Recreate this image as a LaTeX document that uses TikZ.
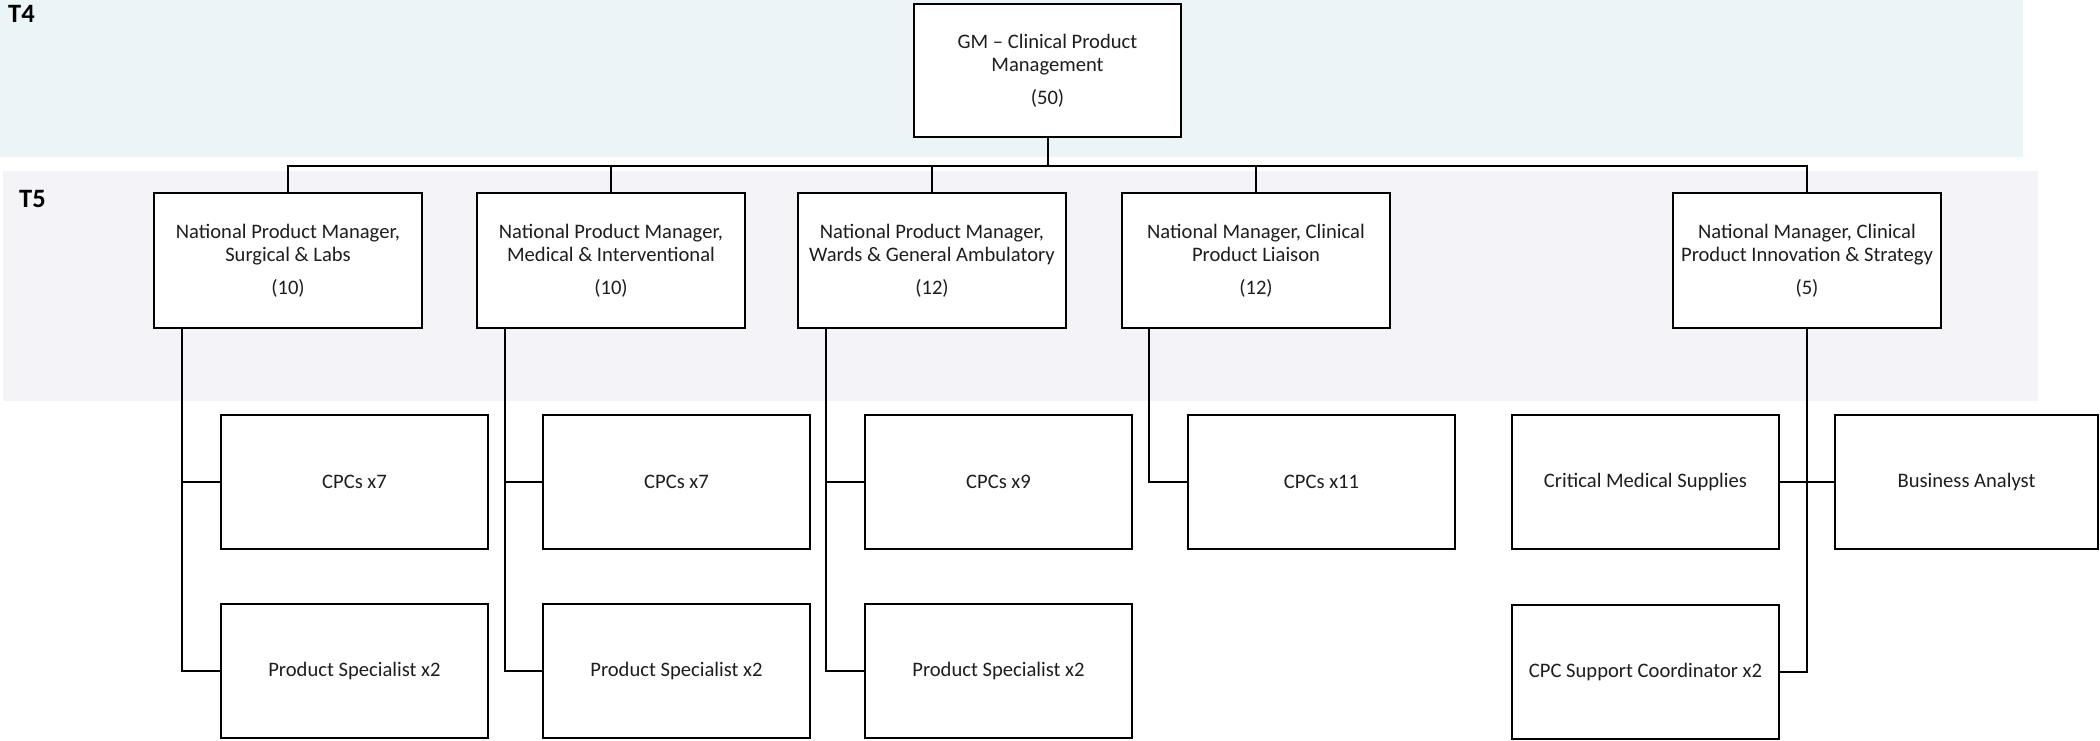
\documentclass[tikz,border=0pt]{standalone}
\usepackage{fontspec}
\setmainfont{Carlito}
\definecolor{tierfour}{HTML}{EBF5F7}
\definecolor{tierfive}{HTML}{F4F3F8}
\definecolor{inktext}{HTML}{1E1E1E}
\begin{document}
\begin{tikzpicture}[x=1pt,y=-1pt,
  role/.style={draw=black, line width=2pt, fill=white, outer sep=0pt,
    minimum width=267pt, minimum height=134pt, inner sep=0pt,
    align=center, text=inktext, font=\fontsize{20.6}{23.5}\selectfont},
  head/.style={role, minimum width=268pt, minimum height=135pt},
  link/.style={line width=2pt, line cap=rect},
  tier/.style={font=\fontsize{26.5}{30}\selectfont\bfseries, anchor=base west,
    inner sep=0pt, text=black}]
\useasboundingbox (0,0) rectangle (2100,741);

% tier bands
\fill[tierfour] (0,0) rectangle (2023,157);
\fill[tierfive] (3,171) rectangle (2038,401);
\node[tier] (t4) at (8,23) {T4};
\node[tier] (t5) at (19,207) {T5};

% bus level for the T5 heads
\coordinate (bus) at (0,166);

% top role
\node[role, minimum width=267pt, minimum height=133pt] (gm) at (1047.5,70.5)
  {GM – Clinical Product\\Management\\[9pt](50)};

% T5 heads
\node[head] (m1) at (288,260.5) {National Product Manager,\\Surgical \& Labs\\[9pt](10)};
\node[head] (m2) at (611,260.5) {National Product Manager,\\Medical \& Interventional\\[9pt](10)};
\node[head] (m3) at (932,260.5) {National Product Manager,\\Wards \& General Ambulatory\\[9pt](12)};
\node[head] (m4) at (1256,260.5) {National Manager, Clinical\\Product Liaison\\[9pt](12)};
\node[head] (m5) at (1807,260.5) {National Manager, Clinical\\Product Innovation \& Strategy\\[9pt](5)};

% team roles
\node[role] (c1) at (354.5,482) {CPCs x7};
\node[role] (p1) at (354.5,671) {Product Specialist x2};
\node[role] (c2) at (676.5,482) {CPCs x7};
\node[role] (p2) at (676.5,671) {Product Specialist x2};
\node[role] (c3) at (998.5,482) {CPCs x9};
\node[role] (p3) at (998.5,671) {Product Specialist x2};
\node[role] (c4) at (1321.5,482) {CPCs x11};
\node[role] (cms) at (1645.5,482) {Critical Medical Supplies};
\node[role] (csc) at (1645.5,672) {CPC Support Coordinator x2};
\node[role, minimum width=263pt] (ba) at (1966.5,482) {Business Analyst};

% GM to T5 heads
\foreach \m in {m1,m2,m3,m4,m5}
  \draw[link] (gm.south) -- (gm.south |- bus) -| (\m.north);

% heads to their teams
\foreach \m/\c/\p in {m1/c1/p1, m2/c2/p2, m3/c3/p3}{
  \draw[link] ([xshift=28pt]\m.south west) |- (\c.west);
  \draw[link] ([xshift=28pt]\m.south west) |- (\p.west);
}
\draw[link] ([xshift=27pt]m4.south west) |- (c4.west);
\draw[link] (m5.south) |- (csc.east);
\draw[link] (cms.east) -- (ba.west);
\end{tikzpicture}
\end{document}
